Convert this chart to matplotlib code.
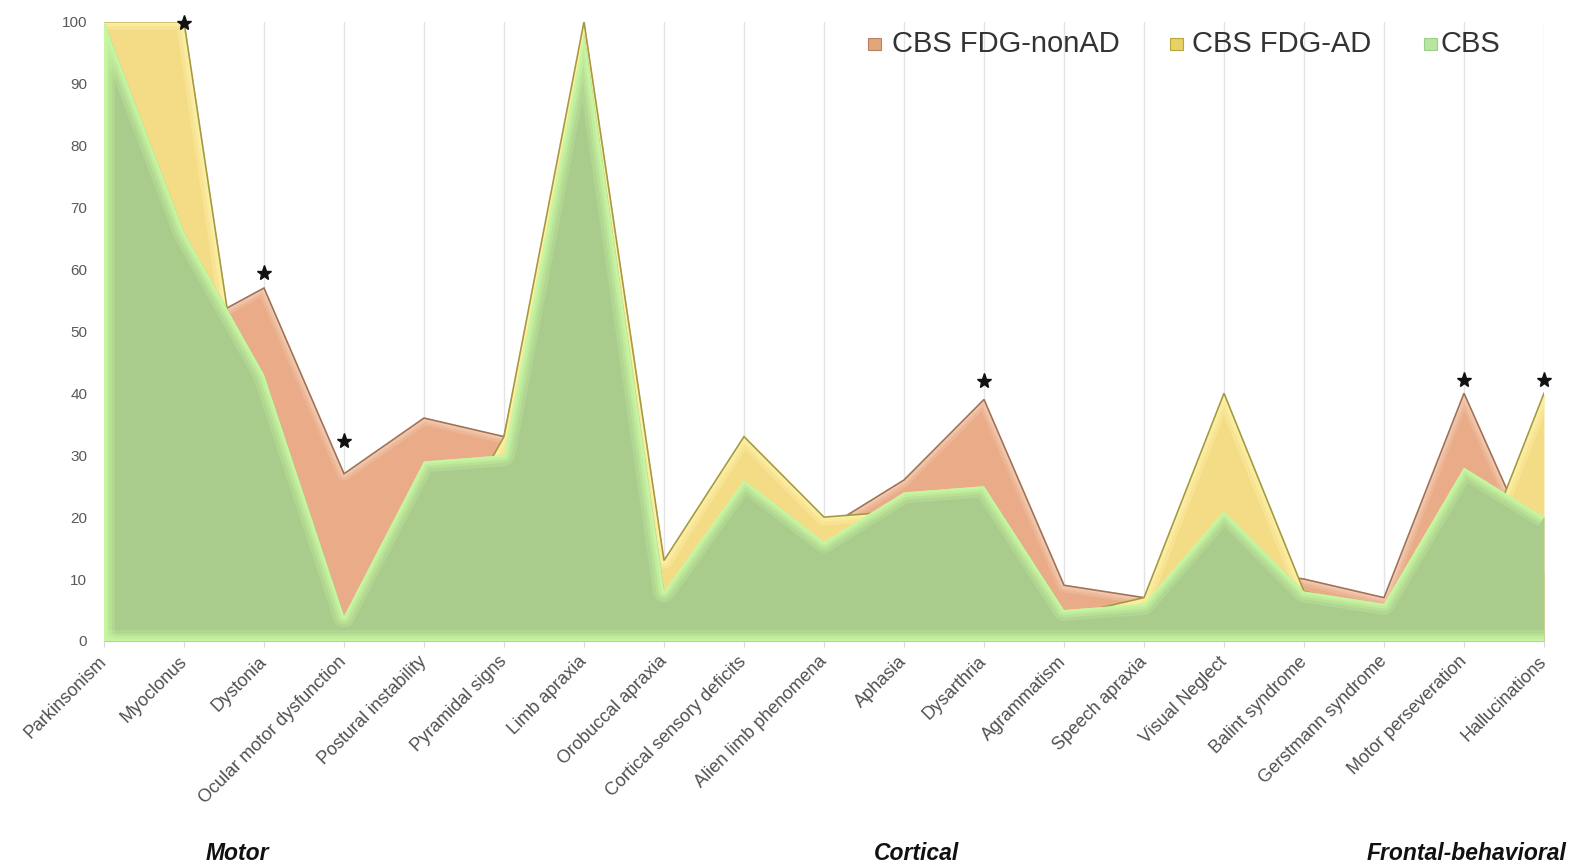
import numpy as np
import matplotlib
matplotlib.use("Agg")
import matplotlib.pyplot as plt
from matplotlib.patches import Polygon, Rectangle
from matplotlib.transforms import offset_copy

# ---- data -------------------------------------------------------------
categories = [
    "Parkinsonism", "Myoclonus", "Dystonia", "Ocular motor dysfunction",
    "Postural instability", "Pyramidal signs", "Limb apraxia",
    "Orobuccal apraxia", "Cortical sensory deficits", "Alien limb phenomena",
    "Aphasia", "Dysarthria", "Agrammatism", "Speech apraxia",
    "Visual Neglect", "Balint syndrome", "Gerstmann syndrome",
    "Motor perseveration", "Hallucinations",
]
fdg_nonad = [100, 50, 57, 27, 36, 33, 95, 11, 27, 18, 26, 39, 9, 7, 12, 10, 7, 40, 11]
fdg_ad = [100, 100, 14, 3, 10, 33, 100, 13, 33, 20, 21, 22, 4, 7, 40, 8, 5, 7, 40]
cbs = [100, 66, 43, 4, 29, 30, 98, 8, 26, 16, 24, 25, 5, 6, 21, 8, 6, 28, 20]
series_names = ["CBS FDG-nonAD", "CBS FDG-AD", "CBS"]
significant = ["Myoclonus", "Dystonia", "Ocular motor dysfunction",
               "Dysarthria", "Motor perseveration", "Hallucinations"]
groups = ["Motor", "Cortical", "Frontal-behavioral"]
y_ticks = list(range(0, 101, 10))

# ---- styling ------------------------------------------------------------
plt.rcParams["font.family"] = ["Liberation Sans", "DejaVu Sans"]
W, H = 1574, 866
fig = plt.figure(figsize=(W / 100, H / 100), dpi=100)
fig.patch.set_facecolor("white")


def fx(px):
    return px / W


def fy(py):
    return 1 - py / H


ax = fig.add_axes([fx(104), fy(641), 1440 / W, 619.3 / H])
n = len(categories)
x = np.arange(n)

ax.set_xlim(0, n - 1)
ax.set_ylim(0, 100)
for s in ("top", "right", "left"):
    ax.spines[s].set_visible(False)
ax.spines["bottom"].set_color("#d9d9d9")
ax.spines["bottom"].set_zorder(0.5)

ax.set_xticks(x)
ax.set_xticklabels(categories, rotation=45, ha="right", va="center",
                   rotation_mode="anchor", fontsize=13, color="#505050")
ax.tick_params(axis="x", length=4, color="#d9d9d9", pad=9)
ax.set_yticks(y_ticks)
ax.tick_params(axis="y", length=0, pad=12, labelsize=11, labelcolor="#595959")
ax.grid(axis="x", color="#e4e4e4", lw=1, zorder=0)
ax.set_axisbelow(True)


def draw_area(vals, fill, glow, glow_layers, edge, z, extra_glow=False):
    vals = np.asarray(vals, dtype=float)
    ax.fill_between(x, 0, vals, color=fill, lw=0, zorder=z)
    outline = np.column_stack([np.r_[x, x[::-1]], np.r_[vals, np.zeros(n)]])
    clip = Polygon(outline, closed=True, transform=ax.transData,
                   facecolor="none", edgecolor="none")
    ax.add_patch(clip)
    paths = [(x, vals)]
    if extra_glow:
        paths.append(([0, n - 1], [0, 0]))
        paths.append(([0, 0], [0, vals[0]]))
    for px_, py_ in paths:
        for lw, a in glow_layers:
            ln, = ax.plot(px_, py_, color=glow, lw=lw, alpha=a, zorder=z + 0.1,
                          solid_joinstyle="round", solid_capstyle="butt")
            ln.set_clip_path(clip)
    if edge is not None:
        ax.plot(x, vals, color=edge, lw=1.2, zorder=z + 0.2,
                solid_joinstyle="miter")


draw_area(fdg_nonad, "#e9ab88", "#f8d6bf",
          [(10, 0.25), (6, 0.35), (3, 0.5)], "#a07257", 2)
draw_area(fdg_ad, "#f4dc86", "#fff6b0",
          [(12, 0.3), (7, 0.4), (3, 0.6)], "#a59a40", 3)
draw_area(cbs, "#a9cb8c", "#c8f7a2",
          [(16, 0.25), (11, 0.35), (7, 0.5), (3.5, 0.85)], None, 4,
          extra_glow=True)

# significance stars above the highest curve of each marked item
star_offsets_px = {"Myoclonus": -1, "Dystonia": 15, "Ocular motor dysfunction": 33,
                   "Dysarthria": 18, "Motor perseveration": 13, "Hallucinations": 13}
for name in significant:
    i = categories.index(name)
    top = max(fdg_nonad[i], fdg_ad[i], cbs[i])
    tr = offset_copy(ax.transData, fig=fig, y=star_offsets_px[name], units="dots")
    ax.plot([i], [top], marker="*", color="#111111", markersize=11,
            transform=tr, zorder=10, clip_on=False)

# legend drawn across the top right
legend_specs = [
    (series_names[0], 868, 892, "#e3a679", "#b88062"),
    (series_names[1], 1170, 1192, "#e8d264", "#b8a440"),
    (series_names[2], 1424, 1441, "#b8e6a0", "#9cd084"),
]
for label, mx, tx, fc, ec in legend_specs:
    fig.patches.append(Rectangle((fx(mx), fy(50)), 13 / W, 12 / H,
                                 transform=fig.transFigure, facecolor=fc,
                                 edgecolor=ec, lw=0.8, zorder=5))
    fig.text(fx(tx), fy(52), label, fontsize=21, color="#333333",
             ha="left", va="baseline", zorder=6)

# group captions under the category labels
for label, cx in zip(groups, [237, 916, 1467]):
    fig.text(fx(cx), fy(853), label, fontsize=16.5, fontweight="bold",
             fontstyle="italic", color="#111111", ha="center", va="center")

fig.savefig("out.png", dpi=100)
